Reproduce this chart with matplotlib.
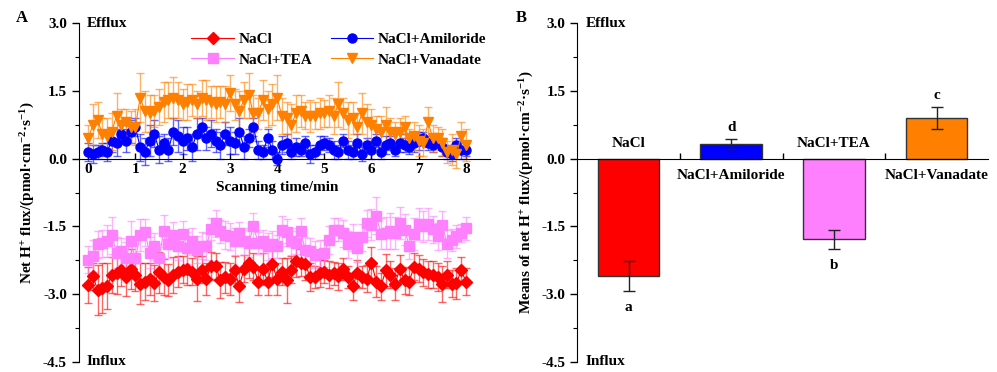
#%% Importing libraries

import numpy as np
from matplotlib import pyplot as plt
from matplotlib import rc

#%% Style

rc('font', **{'family': 'serif', 'serif': ['Liberation Serif', 'DejaVu Serif'], 'weight': 'bold', 'size': 11})
rc('axes', labelweight='bold')
rc('mathtext', fontset='custom', rm='Liberation Serif:bold', bf='Liberation Serif:bold', default='bf')

#%% Data

t = np.round(np.arange(0, 8.01, 0.1), 1)  # [min]

nacl = [-2.80, -2.60, -2.91, -2.87, -2.82, -2.57, -2.54, -2.46, -2.63, -2.44,
        -2.57, -2.77, -2.72, -2.66, -2.76, -2.52, -2.62, -2.69, -2.57, -2.50,
        -2.46, -2.44, -2.50, -2.66, -2.46, -2.66, -2.37, -2.38, -2.69, -2.63,
        -2.67, -2.46, -2.83, -2.44, -2.30, -2.39, -2.72, -2.44, -2.72, -2.33,
        -2.66, -2.50, -2.69, -2.46, -2.27, -2.30, -2.34, -2.62, -2.62, -2.54,
        -2.50, -2.57, -2.54, -2.60, -2.44, -2.62, -2.83, -2.54, -2.62, -2.66,
        -2.30, -2.72, -2.83, -2.47, -2.57, -2.77, -2.44, -2.69, -2.72, -2.39,
        -2.44, -2.52, -2.56, -2.57, -2.62, -2.77, -2.57, -2.77, -2.76, -2.47,
        -2.72]
nacl_err = [0.40, 0.30, 0.55, 0.55, 0.50, 0.40, 0.45, 0.35, 0.40, 0.45,
            0.35, 0.45, 0.40, 0.35, 0.40, 0.45, 0.40, 0.35, 0.40, 0.35,
            0.30, 0.35, 0.30, 0.50, 0.30, 0.35, 0.30, 0.30, 0.40, 0.35,
            0.35, 0.30, 0.35, 0.30, 0.35, 0.30, 0.30, 0.35, 0.30, 0.30,
            0.35, 0.30, 0.50, 0.30, 0.35, 0.30, 0.35, 0.30, 0.25, 0.30,
            0.25, 0.30, 0.25, 0.30, 0.25, 0.25, 0.30, 0.30, 0.25, 0.30,
            0.35, 0.35, 0.30, 0.35, 0.30, 0.35, 0.30, 0.30, 0.30, 0.30,
            0.30, 0.30, 0.30, 0.30, 0.30, 0.40, 0.30, 0.30, 0.35, 0.30,
            0.30]

tea = [-2.24, -2.15, -1.90, -1.87, -1.83, -1.70, -2.08, -2.05, -2.20, -1.83,
       -2.20, -1.69, -1.63, -2.08, -1.94, -2.20, -1.60, -1.90, -1.70, -1.94,
       -1.67, -1.98, -1.83, -2.02, -1.93, -1.94, -1.56, -1.43, -1.61, -1.69,
       -1.72, -1.83, -1.65, -1.83, -1.87, -1.50, -1.87, -1.83, -1.94, -1.90,
       -1.94, -1.57, -1.63, -1.83, -1.86, -1.61, -2.03, -2.05, -2.13, -2.10,
       -2.09, -1.80, -1.57, -1.57, -1.65, -1.90, -1.74, -1.98, -1.74, -1.43,
       -1.46, -1.26, -1.66, -1.65, -1.61, -1.65, -1.43, -1.57, -1.93, -1.67,
       -1.45, -1.50, -1.45, -1.56, -1.72, -1.46, -1.89, -1.80, -1.72, -1.65,
       -1.54]
tea_err = [0.30, 0.35, 0.30, 0.30, 0.35, 0.40, 0.35, 0.30, 0.35, 0.45,
           0.30, 0.35, 0.30, 0.35, 0.30, 0.30, 0.35, 0.30, 0.30, 0.30,
           0.30, 0.35, 0.30, 0.30, 0.30, 0.30, 0.25, 0.30, 0.25, 0.30,
           0.30, 0.30, 0.25, 0.30, 0.30, 0.30, 0.25, 0.25, 0.30, 0.30,
           0.25, 0.30, 0.30, 0.30, 0.25, 0.30, 0.30, 0.30, 0.30, 0.30,
           0.30, 0.30, 0.25, 0.25, 0.30, 0.30, 0.30, 0.30, 0.30, 0.30,
           0.35, 0.40, 0.35, 0.35, 0.40, 0.35, 0.35, 0.35, 0.30, 0.35,
           0.35, 0.35, 0.35, 0.30, 0.30, 0.30, 0.30, 0.25, 0.25, 0.20,
           0.25]

amil = [0.15, 0.10, 0.15, 0.20, 0.15, 0.40, 0.35, 0.55, 0.40, 0.60,
        0.70, 0.25, 0.15, 0.40, 0.55, 0.20, 0.35, 0.20, 0.60, 0.50,
        0.40, 0.45, 0.25, 0.55, 0.70, 0.45, 0.55, 0.40, 0.30, 0.55,
        0.40, 0.35, 0.60, 0.25, 0.45, 0.70, 0.20, 0.15, 0.45, 0.20,
        0.00, 0.30, 0.35, 0.15, 0.25, 0.20, 0.35, 0.10, 0.15, 0.30,
        0.35, 0.30, 0.20, 0.15, 0.40, 0.20, 0.15, 0.35, 0.10, 0.30,
        0.20, 0.40, 0.15, 0.30, 0.35, 0.20, 0.35, 0.30, 0.25, 0.35,
        0.40, 0.45, 0.35, 0.30, 0.40, 0.25, 0.15, 0.10, 0.30, 0.20,
        0.20]
amil_err = [0.20, 0.20, 0.15, 0.15, 0.20, 0.25, 0.30, 0.20, 0.25, 0.25,
            0.20, 0.30, 0.30, 0.35, 0.30, 0.30, 0.20, 0.25, 0.30, 0.35,
            0.30, 0.25, 0.30, 0.35, 0.20, 0.25, 0.30, 0.25, 0.30, 0.25,
            0.30, 0.25, 0.30, 0.25, 0.20, 0.20, 0.20, 0.15, 0.20, 0.20,
            0.15, 0.20, 0.20, 0.15, 0.20, 0.15, 0.15, 0.20, 0.15, 0.20,
            0.15, 0.15, 0.20, 0.15, 0.15, 0.20, 0.15, 0.20, 0.15, 0.15,
            0.20, 0.15, 0.15, 0.20, 0.15, 0.15, 0.20, 0.15, 0.15, 0.20,
            0.20, 0.15, 0.15, 0.15, 0.15, 0.20, 0.15, 0.15, 0.15, 0.20,
            0.15]

vana = [0.45, 0.75, 0.85, 0.55, 0.50, 0.60, 0.95, 0.75, 0.80, 0.70,
        0.70, 1.35, 1.05, 1.00, 1.05, 1.15, 1.25, 1.30, 1.35, 1.30,
        1.20, 1.25, 1.30, 1.20, 1.35, 1.30, 1.25, 1.20, 1.25, 1.20,
        1.45, 1.20, 1.05, 1.30, 1.40, 1.00, 1.00, 1.30, 1.10, 1.20,
        1.35, 0.95, 0.90, 0.75, 1.00, 1.05, 0.95, 0.95, 0.95, 1.00,
        1.00, 1.05, 0.95, 1.20, 1.00, 0.85, 0.90, 0.70, 1.00, 0.80,
        0.75, 0.65, 0.60, 0.75, 0.60, 0.55, 0.60, 0.70, 0.45, 0.50,
        0.40, 0.35, 0.80, 0.45, 0.45, 0.35, 0.15, 0.20, 0.10, 0.50,
        0.30]
vana_err = [0.30, 0.45, 0.40, 0.35, 0.40, 0.40, 0.50, 0.35, 0.30, 0.35,
            0.40, 0.55, 0.45, 0.40, 0.35, 0.40, 0.45, 0.40, 0.45, 0.40,
            0.35, 0.40, 0.35, 0.30, 0.40, 0.45, 0.35, 0.40, 0.35, 0.40,
            0.40, 0.35, 0.45, 0.40, 0.50, 0.40, 0.35, 0.45, 0.40, 0.45,
            0.50, 0.40, 0.35, 0.45, 0.40, 0.35, 0.30, 0.35, 0.30, 0.35,
            0.30, 0.35, 0.40, 0.50, 0.35, 0.40, 0.35, 0.30, 0.45, 0.40,
            0.35, 0.30, 0.35, 0.40, 0.30, 0.25, 0.30, 0.25, 0.20, 0.30,
            0.35, 0.30, 0.35, 0.30, 0.25, 0.30, 0.25, 0.35, 0.30, 0.30,
            0.35]

groups    = ['NaCl', 'NaCl+Amiloride', 'NaCl+TEA', 'NaCl+Vanadate']
means     = [-2.59, 0.32, -1.78, 0.90]
means_err = [0.33, 0.11, 0.21, 0.25]
letters   = ['a', 'd', 'b', 'c']

#%% Figure

fig = plt.figure(figsize=(9.97, 3.72), dpi=100)
axA = fig.add_axes([0.079, 0.027, 0.412, 0.911])
axB = fig.add_axes([0.579, 0.027, 0.412, 0.911])

ylab_units = r'flux/(pmol·cm$^{-2}$·s$^{-1}$)'

for ax in (axA, axB):
    ax.set_ylim(-4.5, 3.0)
    ax.set_yticks([-4.5, -3.0, -1.5, 0.0, 1.5, 3.0])
    ax.set_yticklabels(['-4.5', '-3.0', '-1.5', '0.0', '1.5', '3.0'])
    ax.set_yticks(np.arange(-3.75, 3.0, 1.5), minor=True)
    ax.spines['top'].set_visible(False)
    ax.spines['right'].set_visible(False)
    ax.spines['bottom'].set_position(('data', 0))
    ax.tick_params(axis='y', which='major', direction='out', length=5, width=1)
    ax.tick_params(axis='y', which='minor', direction='out', length=3, width=0.8)
    ax.tick_params(axis='x', which='both', direction='in', length=4, width=1)
    ax.text(0.02, 1.0, 'Efflux', transform=ax.transAxes, ha='left', va='center')
    ax.text(0.02, 0.0, 'Influx', transform=ax.transAxes, ha='left', va='center')

# Panel A

series = [(nacl, nacl_err, '#FF0000', 'D', 'NaCl'),
          (tea, tea_err, '#FF80FF', 's', 'NaCl+TEA'),
          (amil, amil_err, '#0000FF', 'o', 'NaCl+Amiloride'),
          (vana, vana_err, '#FF8000', 'v', 'NaCl+Vanadate')]

lines, names = [], []
for y, e, c, m, lab in series:
    eb = axA.errorbar(t, y, yerr=e, color=c, ecolor=c, elinewidth=1, capsize=3,
                      marker=m, markersize=6.5, linewidth=0.8, zorder=2)
    for a in eb[1]:
        a.set_alpha(0.6)
    for a in eb[2]:
        a.set_alpha(0.6)
    lines.append(eb[0])
    names.append(lab)

axA.set_xlim(-0.2, 8.5)
axA.set_xticks(range(9))
axA.text(4, -0.64, 'Scanning time/min', ha='center', va='center')
axA.set_ylabel('Net H$^{+}$ ' + ylab_units, labelpad=4)
axA.legend(lines, names, ncol=2, loc='upper left',
           bbox_to_anchor=(0.255, 0.995), frameon=False, borderpad=0,
           handlelength=2.8, handletextpad=0.3, columnspacing=1.2, labelspacing=0.45)

# Panel B

pos = np.arange(1, 5)
bar_cols = ['#FF0000', '#0000FF', '#FF80FF', '#FF8000']
axB.bar(pos, means, width=0.6, color=bar_cols, edgecolor='#333333', linewidth=1, zorder=2)
axB.errorbar(pos, means, yerr=means_err, fmt='none', ecolor='#222222', elinewidth=1, capsize=4, zorder=3)
axB.set_xlim(0.5, 4.5)
axB.set_xticks([1.5, 2.5, 3.5])
axB.set_xticklabels([])
axB.set_ylabel('Means of net H$^{+}$ ' + ylab_units, labelpad=4)

for i in range(4):
    if means[i] < 0:
        axB.text(pos[i], 0.33, groups[i], ha='center', va='center')
        axB.text(pos[i], means[i] - means_err[i] - 0.38, letters[i], ha='center', va='center')
    else:
        axB.text(pos[i], -0.37, groups[i], ha='center', va='center')
        axB.text(pos[i], means[i] + means_err[i] + 0.25, letters[i], ha='center', va='center')

fig.text(22 / 997, 1 - 18 / 372, 'A', ha='center', va='center', fontsize=12)
fig.text(521 / 997, 1 - 18 / 372, 'B', ha='center', va='center', fontsize=12)

plt.savefig('out.png', dpi=100)
